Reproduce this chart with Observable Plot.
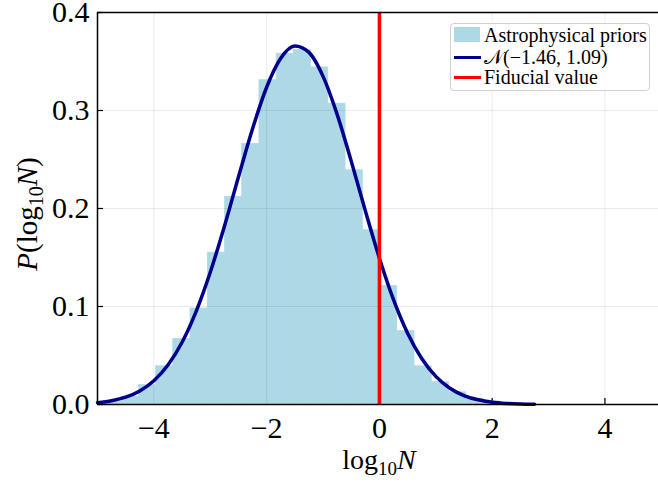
<!DOCTYPE html>
<html><head><meta charset="utf-8">
<script src="https://cdn.jsdelivr.net/npm/d3@7"></script>
<script src="https://cdn.jsdelivr.net/npm/@observablehq/plot@0.6"></script>
<style>
body{margin:0;background:#fff;}
#wrap{position:relative;width:658px;height:483px;font-family:"Liberation Serif",serif;}
.legend{position:absolute;left:450px;top:23px;width:200px;height:68px;box-sizing:border-box;border:1px solid #d0d0d0;border-radius:4px;background:rgba(255,255,255,0.8);font-size:20px;line-height:20px;color:#000;}
.row{position:absolute;left:0;height:20px;white-space:nowrap;}
.sw{position:absolute;left:3px;}
.lab{position:absolute;left:33px;top:0;}
</style></head><body><div id="wrap"></div>
<script>
// histogram bins (density)
const binEdges = [-4.88,-4.574,-4.268,-3.962,-3.657,-3.351,-3.045,-2.74,-2.434,-2.128,-1.823,-1.517,-1.211,-0.906,-0.6,-0.294,0.012,0.317,0.623,0.929,1.235,1.54,1.846,2.152,2.458];
const binHeights = [0.003,0.008,0.020,0.039,0.067,0.098,0.155,0.212,0.266,0.331,0.358,0.362,0.344,0.307,0.239,0.178,0.121,0.075,0.039,0.023,0.0125,0.006,0.003,0.001];
// normal curve N(-1.46, 1.09)
const curveX = [-5,-4.75,-4.5,-4.25,-4,-3.75,-3.5,-3.25,-3,-2.75,-2.5,-2.25,-2,-1.75,-1.5,-1.25,-1,-0.75,-0.5,-0.25,0,0.25,0.5,0.75,1,1.25,1.5,1.75,2,2.25,2.5,2.75];
const curveY = [0.00188,0.00385,0.00749,0.01383,0.02423,0.04027,0.06351,0.09503,0.13491,0.18170,0.23218,0.28146,0.32373,0.35327,0.36575,0.35927,0.33482,0.29603,0.24835,0.19765,0.14924,0.10692,0.07266,0.04686,0.02868,0.01665,0.00917,0.00479,0.00238,0.00112,0.000498,0.000211];
const fiducial = [0];
const xTicks = [-4,-2,0,2,4];
const yTicks = [0,0.1,0.2,0.3,0.4];
const yGrid = [0.1,0.2,0.3];
const legendLabels = ["Astrophysical priors","\u{1D4A9}(\u22121.46, 1.09)","Fiducial value"];
const colors = {hist:"#ADD8E6", curve:"#00008B", fid:"#FF0000"};

const bins = binHeights.map((h,i)=>({x1:binEdges[i], x2:binEdges[i+1], h}));
const curve = curveX.map((x,i)=>({x, y:curveY[i]}));

const plot = Plot.plot({
  width:658, height:483,
  marginLeft:97, marginRight:0, marginTop:12, marginBottom:79,
  style:{fontFamily:"Liberation Serif, serif", fontSize:"30px", color:"#000", background:"#fff", overflow:"visible"},
  x:{domain:[-5,4.95], ticks:xTicks, tickSize:6, tickPadding:6, tickFormat:d3.format("d"), label:null},
  y:{domain:[0,0.4], ticks:yTicks, tickSize:6, tickPadding:2, tickFormat:d3.format(".1f"), label:null},
  marks:[
    Plot.rectY(bins,{x1:"x1",x2:"x2",y:"h",fill:colors.hist,stroke:colors.hist,strokeWidth:0.6,inset:0}),
    Plot.ruleX(xTicks,{stroke:"#000",strokeOpacity:0.08,strokeWidth:1}),
    Plot.ruleY(yGrid,{stroke:"#000",strokeOpacity:0.08,strokeWidth:1}),
    Plot.line(curve,{x:"x",y:"y",stroke:colors.curve,strokeWidth:3.5,curve:"monotone-x"}),
    Plot.ruleX(fiducial,{stroke:colors.fid,strokeWidth:3.5}),
    Plot.ruleX([-5],{stroke:"#000",strokeWidth:1.5}),
    Plot.ruleY([0,0.4],{stroke:"#000",strokeWidth:1.5})
  ]
});
const wrap = document.getElementById("wrap");
wrap.append(plot);

const svg = d3.select(plot);
// inward ticks
svg.selectAll('g[aria-label="x-axis tick"] path').each(function(){
  const t = this.getAttribute("transform")||""; this.setAttribute("transform", t+" scale(1,-1)");
}).attr("stroke-width",1.2);
svg.selectAll('g[aria-label="y-axis tick"] path').each(function(){
  const t = this.getAttribute("transform")||""; this.setAttribute("transform", t+" scale(-1,1)");
}).attr("stroke-width",1.2);

// axis labels with subscripts
const xl = svg.append("text").attr("x",379).attr("y",469).attr("text-anchor","middle")
  .attr("font-family","Liberation Serif, serif").attr("font-size",28).attr("fill","#000");
xl.append("tspan").text("log");
xl.append("tspan").attr("font-size",19).attr("dy",6).text("10");
xl.append("tspan").attr("dy",-6).attr("font-style","italic").text("N");

const yl = svg.append("text").attr("transform","translate(37,214) rotate(-90)").attr("text-anchor","middle")
  .attr("font-family","Liberation Serif, serif").attr("font-size",29).attr("fill","#000");
yl.append("tspan").attr("font-style","italic").text("P");
yl.append("tspan").text("(log");
yl.append("tspan").attr("font-size",20).attr("dy",6).text("10");
yl.append("tspan").attr("dy",-6).attr("font-style","italic").text("N");
yl.append("tspan").text(")");

// legend
const lg = document.createElement("div"); lg.className="legend"; wrap.append(lg);
const rowsTop = [1, 23, 43];
legendLabels.forEach((t,i)=>{
  const r = document.createElement("div"); r.className="row"; r.style.top = rowsTop[i]+"px"; r.style.width="196px";
  const s = document.createElement("div"); s.className="sw";
  if(i===0){ s.style.top="2px"; s.style.width="26px"; s.style.height="15px"; s.style.background=colors.hist; }
  else { s.style.top="9px"; s.style.width="27px"; s.style.height="3px"; s.style.background = i===1?colors.curve:colors.fid; }
  const l = document.createElement("div"); l.className="lab"; l.textContent=t;
  r.append(s,l); lg.append(r);
});
</script></body></html>
